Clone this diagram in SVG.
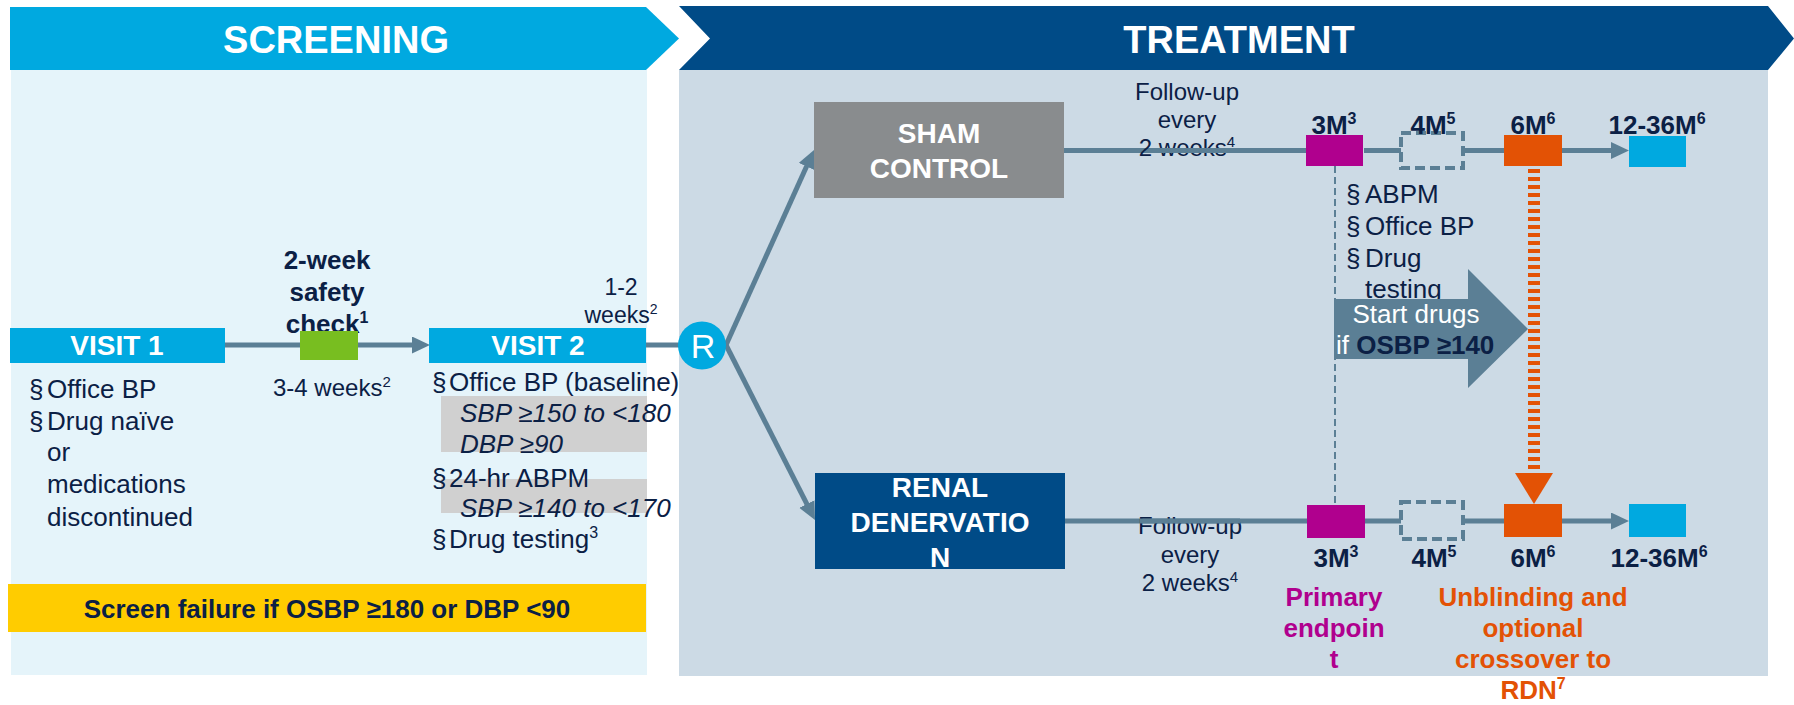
<svg xmlns="http://www.w3.org/2000/svg" width="1794" height="705" viewBox="0 0 1794 705">
<style>
.t{font-family:"Liberation Sans",Arial,Helvetica,sans-serif;fill:#0B2045}
.b{font-weight:bold}
.i{font-style:italic}
.w{fill:#FFFFFF}
.c{text-anchor:middle}
.f26{font-size:26px}
.f24{font-size:24px}
.f23{font-size:23px}
.f28{font-size:28px}
.hdr{font-size:38px;font-weight:bold;fill:#FFFFFF;text-anchor:middle}
.conn{stroke:#5B7F95;stroke-width:5;fill:none}
.conna{stroke:#5B7F95;stroke-width:5;fill:none;marker-end:url(#ah)}
.lb{fill:#00A9E0}
.mag{fill:#B0008E}
.org{fill:#E35205}
.dash{fill:none;stroke:#5B7F95;stroke-width:4;stroke-dasharray:10 5}
.gbox{fill:#D0D0D0}
</style>
<defs>
<marker id="ah" markerUnits="userSpaceOnUse" markerWidth="20" markerHeight="20" refX="10" refY="8.5" orient="auto">
<path d="M0,0 L18,8.5 L0,17 z" fill="#5B7F95"/>
</marker>
</defs>

<g id="screening-phase">
<rect x="11" y="70" width="636" height="605" fill="#E5F4FA"/>
<polygon points="10,7 646,7 679,38.5 646,70 10,70" fill="#00A9E0"/>
<text class="t hdr" x="336" y="53">SCREENING</text>
</g>

<g id="treatment-phase">
<rect x="679" y="70" width="1089" height="606" fill="#CCDAE5"/>
<polygon points="679,6 1768,6 1794,38.5 1768,70 679,70 710,38.5" fill="#004B87"/>
<text class="t hdr" x="1239" y="53">TREATMENT</text>
</g>

<g id="screen-failure">
<rect x="8" y="584" width="638" height="48" fill="#FFCC00"/>
<text class="t b f26 c" x="327" y="618">Screen failure if OSBP ≥180 or DBP &lt;90</text>
</g>

<g id="safety-check">
<text class="t b f26 c" x="327" y="269">2-week</text>
<text class="t b f26 c" x="327" y="301">safety</text>
<text class="t b f26 c" x="327" y="333">check<tspan font-size="16" dy="-10">1</tspan></text>
</g>

<g id="connectors">
<line class="conna" x1="225" y1="345" x2="422" y2="345"/>
<line class="conn" x1="646" y1="345" x2="680" y2="345"/>
<line class="conna" x1="726" y1="345" x2="810.7" y2="157.3"/>
<line class="conna" x1="726" y1="345" x2="811.4" y2="512.9"/>
<line class="conn" x1="1064" y1="150.5" x2="1307" y2="150.5"/>
<line class="conn" x1="1364" y1="150.5" x2="1401" y2="150.5"/>
<line class="conn" x1="1463" y1="150.5" x2="1504" y2="150.5"/>
<line class="conna" x1="1562" y1="150.5" x2="1621" y2="150.5"/>
<line class="conn" x1="1065" y1="521" x2="1307" y2="521"/>
<line class="conn" x1="1364" y1="521" x2="1401" y2="521"/>
<line class="conn" x1="1463" y1="521" x2="1504" y2="521"/>
<line class="conna" x1="1562" y1="521" x2="1621" y2="521"/>
</g>

<g id="safety-box">
<rect x="300" y="331" width="58" height="29" fill="#78BE20"/>
<text class="t f24" x="273" y="396">3-4 weeks<tspan font-size="15" dy="-9">2</tspan></text>
</g>

<g id="visit1">
<rect x="10" y="328" width="215" height="35" class="lb"/>
<text class="t b f28 w c" x="117" y="355">VISIT 1</text>
<text class="t f26" x="29" y="398">§</text><text class="t f26" x="47" y="398">Office BP</text>
<text class="t f26" x="29" y="430">§</text><text class="t f26" x="47" y="430">Drug naïve</text>
<text class="t f26" x="47" y="461">or</text>
<text class="t f26" x="47" y="493">medications</text>
<text class="t f26" x="47" y="526">discontinued</text>
</g>

<g id="visit2">
<rect x="429" y="328" width="217" height="35" class="lb"/>
<text class="t b f28 w c" x="538" y="355">VISIT 2</text>
<text class="t f23 c" x="621" y="295">1-2</text>
<text class="t f23 c" x="621" y="323">weeks<tspan font-size="14" dy="-9">2</tspan></text>
<rect x="441" y="396" width="206" height="56" class="gbox"/>
<rect x="441" y="479" width="206" height="34" class="gbox"/>
<text class="t f26" x="432" y="391">§</text><text class="t f26" x="449" y="391">Office BP (baseline)</text>
<text class="t f26 i" x="460" y="422">SBP ≥150 to &lt;180</text>
<text class="t f26 i" x="460" y="453">DBP ≥90</text>
<text class="t f26" x="432" y="487">§</text><text class="t f26" x="449" y="487">24-hr ABPM</text>
<text class="t f26 i" x="460" y="517">SBP ≥140 to &lt;170</text>
<text class="t f26" x="432" y="548">§</text><text class="t f26" x="449" y="548">Drug testing<tspan font-size="16" dy="-10">3</tspan></text>
</g>

<g id="randomization">
<circle cx="702" cy="345.5" r="24" fill="#00A9E0"/>
<text class="t w c" x="703" y="358" font-size="34">R</text>
</g>

<g id="sham-control">
<rect x="814" y="102" width="250" height="96" fill="#898C8E"/>
<text class="t b f28 w c" x="939" y="143">SHAM</text>
<text class="t b f28 w c" x="939" y="178">CONTROL</text>
</g>

<g id="renal-denervation">
<rect x="815" y="473" width="250" height="96" fill="#004B87"/>
<text class="t b f28 w c" x="940" y="497">RENAL</text>
<text class="t b f28 w c" x="940" y="532">DENERVATIO</text>
<text class="t b f28 w c" x="940" y="567">N</text>
</g>

<g id="followup-top">
<text class="t f24 c" x="1187" y="100">Follow-up</text>
<text class="t f24 c" x="1187" y="128">every</text>
<text class="t f24 c" x="1187" y="156">2 weeks<tspan font-size="15" dy="-9">4</tspan></text>
<line class="conn" x1="1150" y1="150.5" x2="1240" y2="150.5"/>
</g>

<g id="followup-bottom">
<text class="t f24 c" x="1190" y="534">Follow-up</text>
<text class="t f24 c" x="1190" y="563">every</text>
<text class="t f24 c" x="1190" y="591">2 weeks<tspan font-size="15" dy="-9">4</tspan></text>
<line class="conn" x1="1140" y1="521" x2="1240" y2="521"/>
</g>

<g id="sham-3m-assessments">
<text class="t f26" x="1346" y="203">§</text><text class="t f26" x="1365" y="203">ABPM</text>
<text class="t f26" x="1346" y="235">§</text><text class="t f26" x="1365" y="235">Office BP</text>
<text class="t f26" x="1346" y="267">§</text><text class="t f26" x="1365" y="267">Drug</text>
<text class="t f26" x="1365" y="298">testing</text>
</g>

<g id="start-drugs">
<polygon points="1334,299 1468,299 1468,269 1528,329 1468,388 1468,359 1334,359" fill="#5B7F95"/>
<text class="t f26 w c" x="1416" y="323">Start drugs</text>
<text class="t f26" x="1336" y="354"><tspan class="w">if </tspan><tspan class="b">OSBP ≥140</tspan></text>
</g>

<g id="primary-link">
<line x1="1335" y1="166" x2="1335" y2="505" stroke="#5B7F95" stroke-width="2" stroke-dasharray="7 4"/>
</g>

<g id="crossover-link">
<line x1="1534" y1="169" x2="1534" y2="474" stroke="#E35205" stroke-width="12" stroke-dasharray="4 4"/>
<polygon points="1515,473 1553,473 1534,504" fill="#E35205"/>
</g>

<g id="top-3m">
<rect x="1306" y="135" width="57" height="31" class="mag"/>
<text class="t b f26 c" x="1334" y="134">3M<tspan font-size="16" dy="-10">3</tspan></text>
</g>
<g id="top-4m">
<rect x="1401" y="133" width="62" height="35" class="dash"/>
<text class="t b f26 c" x="1433" y="134">4M<tspan font-size="16" dy="-10">5</tspan></text>
</g>
<g id="top-6m">
<rect x="1504" y="135" width="58" height="31" class="org"/>
<text class="t b f26 c" x="1533" y="134">6M<tspan font-size="16" dy="-10">6</tspan></text>
</g>
<g id="top-12-36m">
<rect x="1629" y="136" width="57" height="31" class="lb"/>
<text class="t b f26 c" x="1657" y="134">12-36M<tspan font-size="16" dy="-10">6</tspan></text>
</g>

<g id="bottom-3m">
<rect x="1307" y="505" width="58" height="33" class="mag"/>
<text class="t b f26 c" x="1336" y="567">3M<tspan font-size="16" dy="-10">3</tspan></text>
</g>
<g id="bottom-4m">
<rect x="1401" y="502" width="62" height="37" class="dash"/>
<text class="t b f26 c" x="1434" y="567">4M<tspan font-size="16" dy="-10">5</tspan></text>
</g>
<g id="bottom-6m">
<rect x="1504" y="504" width="58" height="33" class="org"/>
<text class="t b f26 c" x="1533" y="567">6M<tspan font-size="16" dy="-10">6</tspan></text>
</g>
<g id="bottom-12-36m">
<rect x="1629" y="504" width="57" height="33" class="lb"/>
<text class="t b f26 c" x="1659" y="567">12-36M<tspan font-size="16" dy="-10">6</tspan></text>
</g>

<g id="primary-endpoint-label">
<text class="t b f26 c" x="1334" y="606" style="fill:#B0008E">Primary</text>
<text class="t b f26 c" x="1334" y="637" style="fill:#B0008E">endpoin</text>
<text class="t b f26 c" x="1334" y="668" style="fill:#B0008E">t</text>
</g>

<g id="unblinding-label">
<text class="t b f26 c" x="1533" y="606" style="fill:#E35205">Unblinding and</text>
<text class="t b f26 c" x="1533" y="637" style="fill:#E35205">optional</text>
<text class="t b f26 c" x="1533" y="668" style="fill:#E35205">crossover to</text>
<text class="t b f26 c" x="1533" y="699" style="fill:#E35205">RDN<tspan font-size="16" dy="-10">7</tspan></text>
</g>
</svg>
